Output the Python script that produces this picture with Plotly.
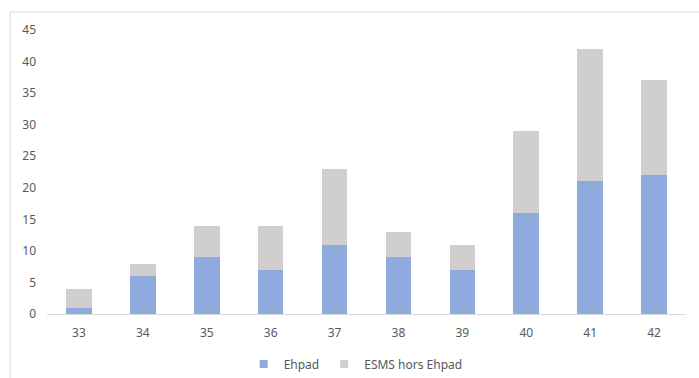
import plotly.graph_objects as go

# Weekly counts by facility type
weeks = ["33", "34", "35", "36", "37", "38", "39", "40", "41", "42"]
ehpad = [1, 6, 9, 7, 11, 9, 7, 16, 21, 22]
esms_hors_ehpad = [3, 2, 5, 7, 12, 4, 4, 13, 21, 15]

series_names = ["Ehpad", "ESMS hors Ehpad"]
series_colors = ["#8FAADC", "#D0CECE"]

y_ticks = list(range(0, 50, 5))

font_family = "Noto Sans, Open Sans, sans-serif"
label_color = "#595959"

fig = go.Figure()
for name, vals, color in zip(series_names, [ehpad, esms_hors_ehpad], series_colors):
    fig.add_trace(go.Bar(x=weeks, y=vals, name=name, showlegend=False,
                         legendgroup=name,
                         marker=dict(color=color, line=dict(width=0))))

# small square legend keys
for name, color in zip(series_names, series_colors):
    fig.add_trace(go.Scatter(x=[None], y=[None], mode="markers", name=name,
                             legendgroup=name,
                             marker=dict(symbol="square", size=8, color=color)))

plot_w, plot_h = 639, 284
left, top = 47, 30

# light frame around the chart area
fig.add_shape(type="rect", xref="paper", yref="paper",
              x0=(10 - left) / plot_w, x1=1.2,
              y0=-0.5, y1=1 + (top - 12) / plot_h,
              line=dict(color="#D9D9D9", width=1), fillcolor="rgba(0,0,0,0)",
              layer="below")

fig.update_layout(
    barmode="stack",
    bargap=0.6,
    width=699, height=378,
    margin=dict(l=left, r=699 - left - plot_w, t=top, b=378 - top - plot_h,
                autoexpand=False),
    paper_bgcolor="white", plot_bgcolor="white",
    font=dict(family=font_family, size=12, color=label_color),
    showlegend=True,
    legend=dict(orientation="h", x=0.483, xanchor="center", y=-0.176, yanchor="middle",
                font=dict(size=12, color=label_color), itemwidth=30,
                traceorder="normal"),
    xaxis=dict(showgrid=False, showline=True, linecolor="#D9D9D9", linewidth=1,
               ticks="", ticklabelstandoff=8, tickfont=dict(size=12, color=label_color)),
    yaxis=dict(range=[0, 45], tickvals=y_ticks, showgrid=False, showline=False,
               zeroline=False, ticks="", ticklabelstandoff=10,
               tickfont=dict(size=12, color=label_color)),
)

fig.write_html("out.html")
